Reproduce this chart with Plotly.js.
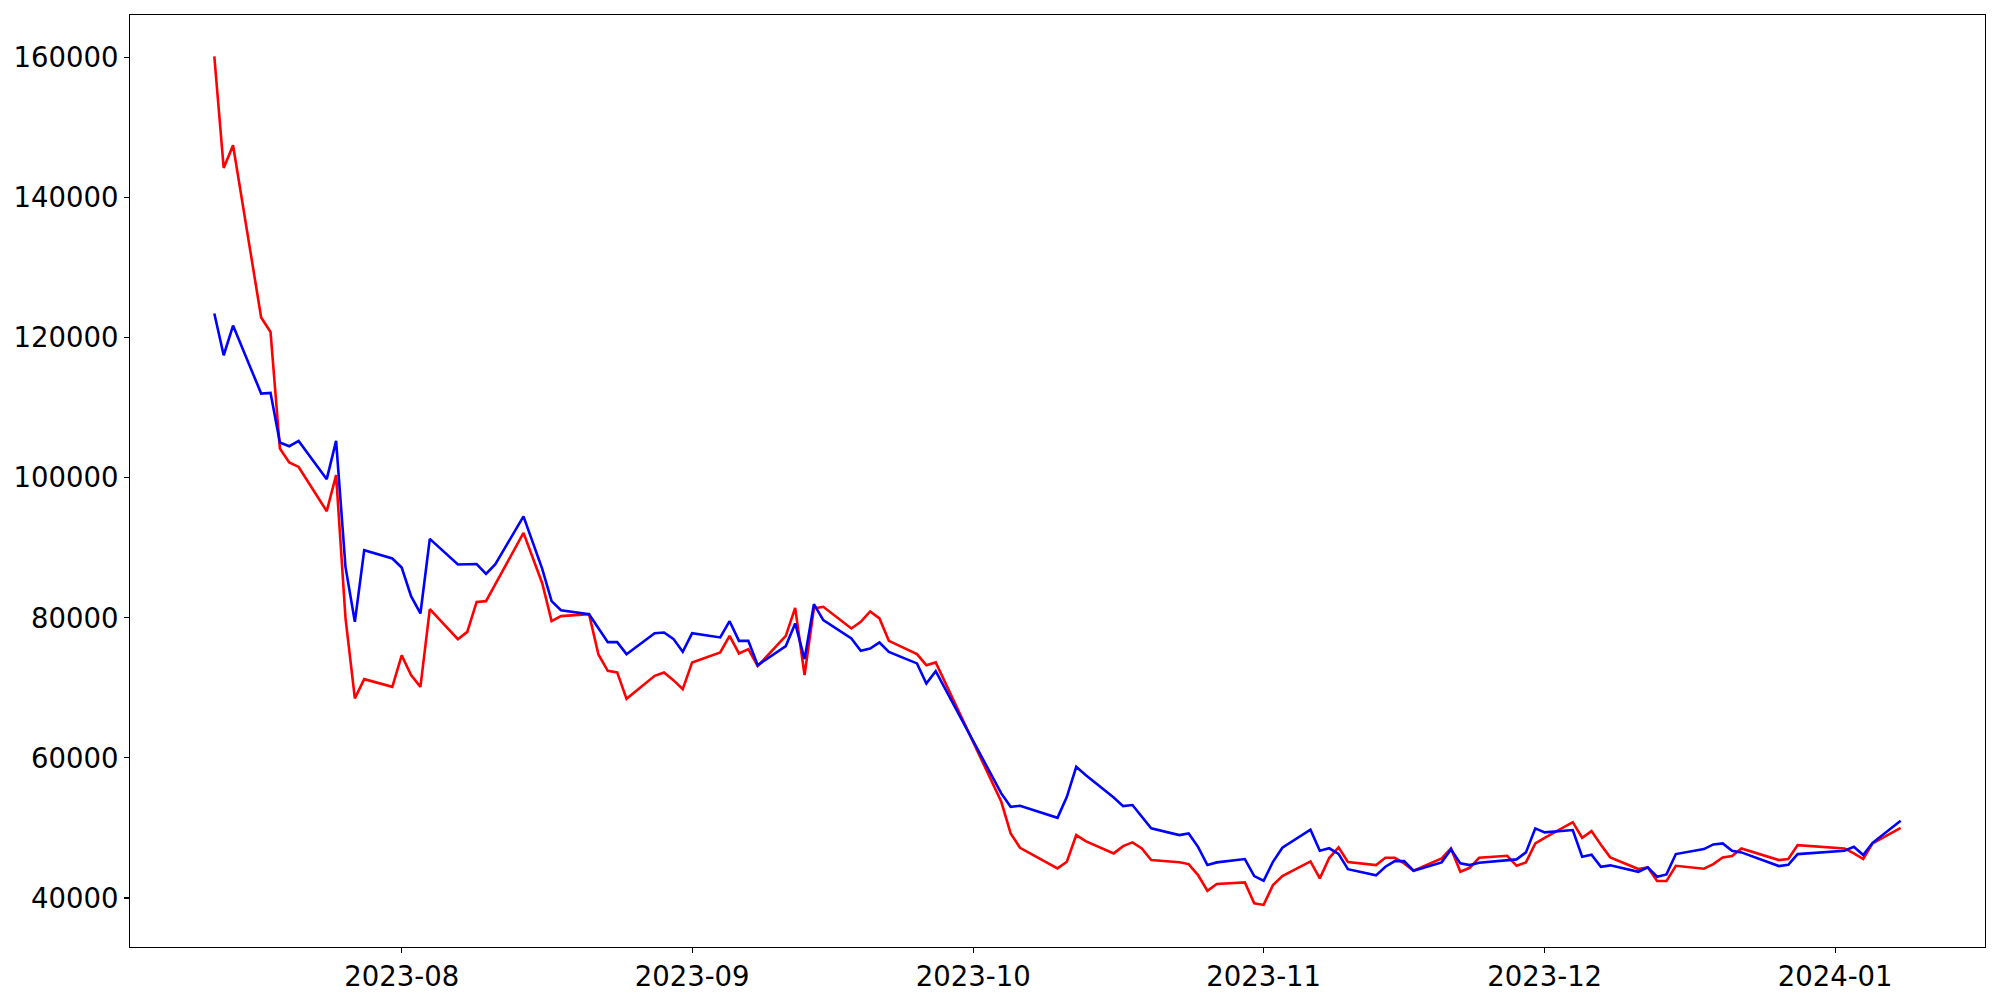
<!DOCTYPE html>
<html>
<head>
<meta charset="utf-8">
<script src="https://cdn.plot.ly/plotly-3.0.1.min.js"></script>
<style>
  html, body { margin: 0; padding: 0; background: #ffffff; }
  #chart { width: 2000px; height: 1000px; }
</style>
</head>
<body>
<div id="chart"></div>
<script>
const dates = [
  "2023-07-12","2023-07-13","2023-07-14","2023-07-17","2023-07-18","2023-07-19","2023-07-20","2023-07-21",
  "2023-07-24","2023-07-25","2023-07-26","2023-07-27","2023-07-28","2023-07-31",
  "2023-08-01","2023-08-02","2023-08-03","2023-08-04","2023-08-07","2023-08-08","2023-08-09","2023-08-10","2023-08-11",
  "2023-08-14","2023-08-16","2023-08-17","2023-08-18","2023-08-21","2023-08-22","2023-08-23","2023-08-24","2023-08-25",
  "2023-08-28","2023-08-29","2023-08-30","2023-08-31",
  "2023-09-01","2023-09-04","2023-09-05","2023-09-06","2023-09-07","2023-09-08","2023-09-11","2023-09-12","2023-09-13",
  "2023-09-14","2023-09-15","2023-09-18","2023-09-19","2023-09-20","2023-09-21","2023-09-22","2023-09-25","2023-09-26","2023-09-27",
  "2023-10-04","2023-10-05","2023-10-06","2023-10-10","2023-10-11","2023-10-12","2023-10-13","2023-10-16","2023-10-17",
  "2023-10-18","2023-10-19","2023-10-20","2023-10-23","2023-10-24","2023-10-25","2023-10-26","2023-10-27","2023-10-30","2023-10-31",
  "2023-11-01","2023-11-02","2023-11-03","2023-11-06","2023-11-07","2023-11-08","2023-11-09","2023-11-10","2023-11-13",
  "2023-11-14","2023-11-15","2023-11-16","2023-11-17","2023-11-20","2023-11-21","2023-11-22","2023-11-23","2023-11-24",
  "2023-11-27","2023-11-28","2023-11-29","2023-11-30",
  "2023-12-01","2023-12-04","2023-12-05","2023-12-06","2023-12-07","2023-12-08","2023-12-11","2023-12-12","2023-12-13",
  "2023-12-14","2023-12-15","2023-12-18","2023-12-19","2023-12-20","2023-12-21","2023-12-22","2023-12-26","2023-12-27","2023-12-28",
  "2024-01-02","2024-01-03","2024-01-04","2024-01-05","2024-01-08"
];

const redValues = [
  160200,144250,147500,122900,120840,104190,102190,101560,
  95240,100380,80000,68500,71250,70150,
  74640,71820,70150,81250,76960,78000,82290,82390,84830,
  92140,84950,79550,80250,80530,74780,72440,72210,68440,
  71730,72210,71110,69830,
  73640,75070,77440,74920,75540,73110,77440,81430,71830,
  81350,81580,78490,79435,80920,79920,76720,74820,73250,73640,
  53740,49220,47170,44230,45170,48980,48125,46370,47410,
  47940,47080,45410,45100,44840,43270,41030,41990,42230,39230,
  39010,41845,43130,45220,42800,45700,47225,45130,44700,
  45740,45740,44940,43890,45655,47080,43740,44310,45740,
  46030,44600,45085,47800,
  48600,50830,48600,49550,47600,45800,44130,44370,42415,
  42415,44600,44170,44840,45800,45990,47080,45410,45560,47555,
  47080,46370,45560,47800,50025
];

const blueValues = [
  123470,117510,121750,112040,112140,105050,104520,105280,
  99810,105280,87290,79440,89670,88490,
  87200,83100,80630,91280,87630,87710,87690,86290,87670,
  94500,87000,82390,81100,80530,78580,76540,76540,74820,
  77820,77920,77010,75150,
  77820,77210,79530,76720,76720,73250,75970,79210,74110,
  81960,79680,77065,75295,75630,76490,75150,73500,70640,72400,
  54930,53020,53170,51450,54450,58735,57550,54360,53120,
  53270,51600,49940,48980,49220,47310,44700,45085,45560,43130,
  42460,45170,47170,49750,46740,47100,46300,44110,43230,
  44460,45270,45270,43890,45085,46940,44940,44700,45030,
  45410,45510,46510,49940,
  49370,49700,45885,46170,44460,44660,43740,44370,43030,
  43370,46270,46980,47650,47800,46740,46510,44560,44740,46270,
  46740,47310,46130,47880,51025
];

const xTickVals = ["2023-08-01","2023-09-01","2023-10-01","2023-11-01","2023-12-01","2024-01-01"];
const xTickText = ["2023-08","2023-09","2023-10","2023-11","2023-12","2024-01"];
const yTickVals = [40000, 60000, 80000, 100000, 120000, 140000, 160000];
const yTickText = ["40000","60000","80000","100000","120000","140000","160000"];

const traces = [
  {
    x: dates, y: redValues, type: "scatter", mode: "lines",
    line: { color: "#ff0000", width: 2.6 }, showlegend: false, hoverinfo: "x+y"
  },
  {
    x: dates, y: blueValues, type: "scatter", mode: "lines",
    line: { color: "#0000ff", width: 2.6 }, showlegend: false, hoverinfo: "x+y"
  }
];

const axisFont = { family: "DejaVu Sans, sans-serif", size: 27.5, color: "#000000" };

const layout = {
  width: 2000, height: 1000,
  margin: { l: 130, r: 15, t: 15, b: 53, pad: 0 },
  paper_bgcolor: "#ffffff", plot_bgcolor: "#ffffff",
  showlegend: false,
  font: axisFont,
  xaxis: {
    type: "date",
    range: ["2023-07-03", "2024-01-17"],
    tickmode: "array", tickvals: xTickVals, ticktext: xTickText,
    ticks: "outside", ticklen: 5, tickwidth: 1.1, tickcolor: "#000000",
    showgrid: false, zeroline: false,
    showline: true, linecolor: "#000000", linewidth: 1.1, mirror: true,
    tickfont: axisFont
  },
  yaxis: {
    range: [33000, 166100],
    tickmode: "array", tickvals: yTickVals, ticktext: yTickText,
    ticks: "outside", ticklen: 5, tickwidth: 1.1, tickcolor: "#000000",
    showgrid: false, zeroline: false,
    showline: true, linecolor: "#000000", linewidth: 1.1, mirror: true,
    tickfont: axisFont
  }
};

Plotly.newPlot("chart", traces, layout, { staticPlot: true, displayModeBar: false });
</script>
</body>
</html>
